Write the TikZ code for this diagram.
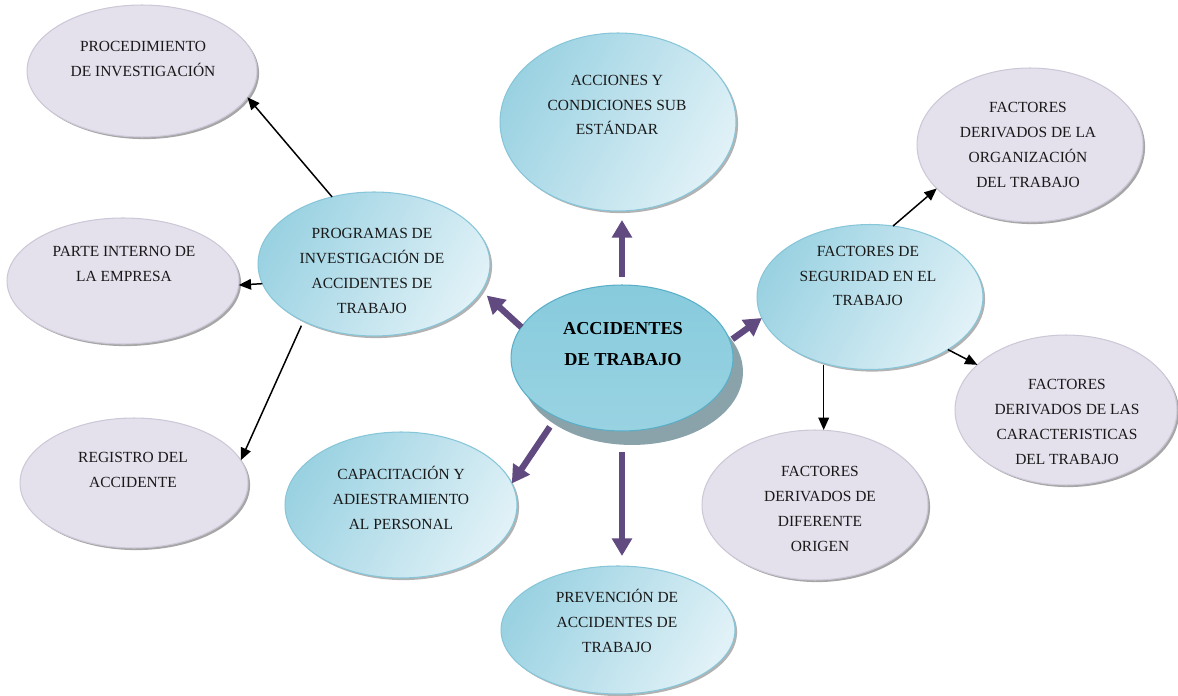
\documentclass[tikz,border=0pt]{standalone}
\usepackage{fontspec}
\setmainfont{Liberation Serif}
\usetikzlibrary{shapes.geometric,arrows.meta,shadows}
\definecolor{lav}{RGB}{228,224,236}
\definecolor{lavline}{RGB}{205,200,215}
\definecolor{blA}{RGB}{155,210,226}
\definecolor{blB}{RGB}{224,241,247}
\definecolor{blline}{RGB}{135,198,217}
\definecolor{mainTop}{RGB}{135,203,221}
\definecolor{mainMid}{RGB}{64,163,193}
\definecolor{mainLine}{RGB}{90,175,200}
\definecolor{shgrey}{RGB}{138,163,170}
\definecolor{purp}{RGB}{96,74,128}
\tikzset{
  ell/.style={ellipse, inner sep=0pt, outer sep=0pt, line width=0.6pt},
  lavell/.style={ell, fill=lav, draw=lavline,
     drop shadow={shadow xshift=1.2pt, shadow yshift=-1.2pt, fill=black, opacity=0.35}},
  blueell/.style={ell, draw=blline, left color=blA, right color=blB, shading angle=60,
     drop shadow={shadow xshift=1.2pt, shadow yshift=-1.2pt, fill=black, opacity=0.3}},
  txt/.style={align=center, inner sep=0pt, text=black!90, font=\fontsize{8.8}{14.2}\selectfont},
  btxt/.style={align=center, inner sep=0pt, font=\fontsize{10.4}{18}\selectfont\bfseries},
  blk/.style={line width=0.85pt, -{Triangle[length=7pt,width=6pt]}},
  prp/.style={purp, line width=3.6pt, -{Triangle[length=10pt,width=11pt]}}
}
\begin{document}
\begin{tikzpicture}[x=0.02cm,y=-0.02cm]
\useasboundingbox (0,0) rectangle (1178,696);
% lavender nodes
\node[lavell, minimum width=4.6cm, minimum height=2.64cm] (proc) at (142,71) {};
\node[lavell, minimum width=4.64cm, minimum height=2.52cm] (parte) at (123,281) {};
\node[lavell, minimum width=4.56cm, minimum height=2.6cm] (reg) at (134,483) {};
\node[lavell, minimum width=4.52cm, minimum height=3.08cm] (org) at (1030,145) {};
\node[lavell, minimum width=4.44cm, minimum height=3.0cm] (car) at (1066,410) {};
\node[lavell, minimum width=4.52cm, minimum height=3.0cm] (dif) at (815,505) {};
% blue nodes
\node[blueell, minimum width=4.64cm, minimum height=2.88cm] (prog) at (374,264) {};
\node[blueell, minimum width=4.72cm, minimum height=3.56cm] (acc) at (618,122) {};
\node[blueell, minimum width=4.52cm, minimum height=2.9cm] (seg) at (870,297) {};
\node[blueell, minimum width=4.64cm, minimum height=2.92cm] (cap) at (401,505) {};
\node[blueell, minimum width=4.68cm, minimum height=2.56cm] (prev) at (618,630) {};
% main node
\node[ell, draw=mainLine, top color=mainTop, middle color=mainMid, bottom color=mainTop!85!white,
      minimum width=4.44cm, minimum height=2.92cm,
      drop shadow={shadow xshift=0.2cm, shadow yshift=-0.28cm, fill=shgrey, opacity=1}] (main) at (622,358) {};
% texts
\node[txt] (proct) at (143,59) {PROCEDIMIENTO\\DE INVESTIGACIÓN};
\node[txt] (partet) at (124,264) {PARTE INTERNO DE\\LA EMPRESA};
\node[txt] (regt) at (133,470) {REGISTRO DEL\\ACCIDENTE};
\node[txt] (progt) at (372,271) {PROGRAMAS DE\\INVESTIGACIÓN DE\\ACCIDENTES DE\\TRABAJO};
\node[txt] (acct) at (617,105) {ACCIONES Y\\CONDICIONES SUB\\ESTÁNDAR};
\node[btxt] (maint) at (623,344) {ACCIDENTES\\DE TRABAJO};
\node[txt] (segt) at (868,276) {FACTORES DE\\SEGURIDAD EN EL\\TRABAJO};
\node[txt] (orgt) at (1028,145) {FACTORES\\DERIVADOS DE LA\\ORGANIZACIÓN\\DEL TRABAJO};
\node[txt] (cart) at (1067,422) {FACTORES\\DERIVADOS DE LAS\\CARACTERISTICAS\\DEL TRABAJO};
\node[txt] (dift) at (820,509) {FACTORES\\DERIVADOS DE\\DIFERENTE\\ORIGEN};
\node[txt] (capt) at (401,498) {CAPACITACIÓN Y\\ADIESTRAMIENTO\\AL PERSONAL};
\node[txt] (prevt) at (617,621) {PREVENCIÓN DE\\ACCIDENTES DE\\TRABAJO};
% black arrows
\draw[blk] (prog.122) -- (proc.-14);
\draw[blk] (prog.190) -- (parte.-2);
\draw[blk, shorten <=0.1cm] (prog.219) -- (reg.12);
\draw[blk] (seg.72) -- (org.-155);
\draw[blk] (seg.-34) -- (car.153);
\draw[blk, shorten <=0.04cm] (seg.235) -- (seg.235 |- dif.north);
% purple arrows
\draw[prp, shorten <=0.16cm, shorten >=0.18cm] (main.north) -- (main.north |- acc.south);
\draw[prp, shorten >=0.14cm] (main.163) -- (prog.-14);
\draw[prp, shorten <=0.24cm] (main.222) -- (cap.11);
\draw[prp, shorten <=0.42cm, shorten >=0.2cm] (main.south) -- (main.south |- prev.north);
\draw[prp, shorten <=0.06cm] (main.9) -- (seg.191);
\end{tikzpicture}
\end{document}
